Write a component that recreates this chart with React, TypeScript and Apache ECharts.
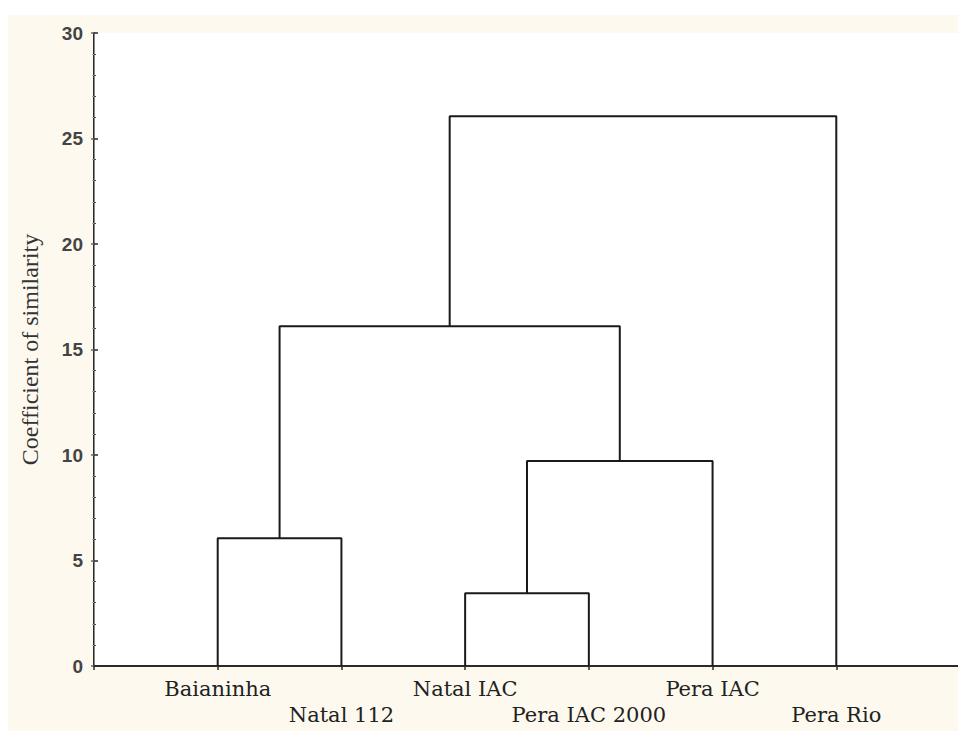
import React, { useEffect, useRef } from "react";
import * as echarts from "echarts";

const leaves = ["Baianinha", "Natal 112", "Natal IAC", "Pera IAC 2000", "Pera IAC", "Pera Rio"];
// nodes 0..5 are leaves, merge k creates node 6+k
const mergeLeft = [0, 2, 7, 6, 9];
const mergeRight = [1, 3, 4, 8, 5];
const mergeHeight = [6.05, 3.45, 9.72, 16.1, 26.05];
const yTicks = [0, 5, 10, 15, 20, 25, 30];
const yName = "Coefficient of similarity";

function buildSegments() {
  const nx: number[] = leaves.map((_, i) => i + 1);
  const ny: number[] = leaves.map(() => 0);
  const segs: number[][][] = [];
  mergeHeight.forEach((h, k) => {
    const a = mergeLeft[k];
    const b = mergeRight[k];
    segs.push([
      [nx[a], ny[a]],
      [nx[a], h],
      [nx[b], h],
      [nx[b], ny[b]],
    ]);
    nx.push((nx[a] + nx[b]) / 2);
    ny.push(h);
  });
  return segs;
}

export default function App() {
  const ref = useRef<HTMLDivElement>(null);
  useEffect(() => {
    if (!ref.current) return;
    const chart = echarts.init(ref.current, undefined, { renderer: "svg" });
    const segs = buildSegments();
    const axisColor = "#2a2a2a";
    chart.setOption({
      animation: false,
      backgroundColor: "#fdf9ef",
      grid: {
        left: 86,
        top: 18,
        width: 866,
        height: 633,
        outerBoundsMode: "none",
        containLabel: false,
        show: true,
        backgroundColor: "#ffffff",
        borderWidth: 0,
      },
      xAxis: [
        {
          type: "value",
          position: "bottom",
          min: 0,
          max: 7,
          interval: 1,
          splitLine: { show: false },
          axisLine: { show: true, lineStyle: { color: axisColor, width: 2 } },
          axisTick: { show: false },
          axisLabel: {
            margin: 10,
            fontFamily: "DejaVu Serif",
            fontSize: 21,
            lineHeight: 26,
            color: "#222",
            formatter: (v: number) => {
              const i = Math.round(v) - 1;
              if (i < 0 || i >= leaves.length) return "";
              return i % 2 === 1 ? "\n" + leaves[i] : leaves[i];
            },
          },
        },
        {
          type: "value",
          position: "top",
          min: 0,
          max: 7,
          interval: 1,
          splitLine: { show: false },
          axisLine: { show: true, lineStyle: { color: axisColor, width: 2 } },
          axisTick: { show: true, inside: true, length: 4, lineStyle: { color: axisColor, width: 1.5 } },
          axisLabel: { show: false },
        },
      ],
      yAxis: [
        {
          type: "value",
          position: "left",
          min: yTicks[0],
          max: yTicks[yTicks.length - 1],
          interval: 5,
          name: yName,
          nameLocation: "middle",
          nameGap: 52,
          nameTextStyle: { fontFamily: "Liberation Serif", fontSize: 24, color: "#333" },
          splitLine: { show: false },
          axisLine: { show: true, lineStyle: { color: axisColor, width: 2 } },
          axisTick: { show: true, inside: true, length: 4, lineStyle: { color: axisColor, width: 1.5 } },
          minorTick: { show: true, splitNumber: 5, length: 2, lineStyle: { color: "#444", width: 1 } },
          axisLabel: {
            margin: 11,
            fontFamily: "Liberation Sans",
            fontSize: 19,
            fontWeight: "bold",
            color: "#444",
          },
        },
        {
          type: "value",
          position: "right",
          min: yTicks[0],
          max: yTicks[yTicks.length - 1],
          interval: 5,
          splitLine: { show: false },
          axisLine: { show: true, lineStyle: { color: "#888", width: 1 } },
          axisTick: { show: true, inside: true, length: 3, lineStyle: { color: "#666", width: 1.5 } },
          minorTick: { show: true, splitNumber: 5, length: 2, lineStyle: { color: "#aaa", width: 1 } },
          axisLabel: { show: false },
        },
      ],
      series: segs.map((s) => ({
        type: "line",
        data: s,
        xAxisIndex: 0,
        yAxisIndex: 0,
        symbol: "none",
        silent: true,
        lineStyle: { color: "#1a1a1a", width: 2 },
      })),
    });
    return () => chart.dispose();
  }, []);
  return (
    <div
      ref={ref}
      style={{ position: "fixed", left: 8, top: 15, width: 950, height: 716 }}
    />
  );
}
